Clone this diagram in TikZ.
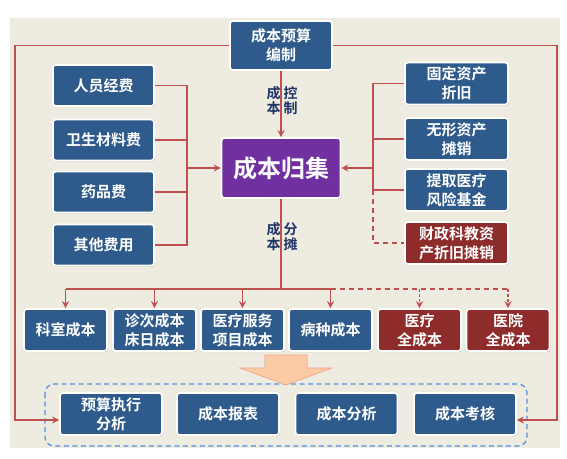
\documentclass[tikz,border=0pt]{standalone}
\usepackage{fontspec}
\setmainfont{Noto Sans CJK SC Bold}
\usetikzlibrary{arrows.meta,shadows}

\definecolor{boxblue}{HTML}{2F5B8C}
\definecolor{boxred}{HTML}{8E2B2B}
\definecolor{collectpurple}{HTML}{7030A0}
\definecolor{linered}{HTML}{C0504D}
\definecolor{panelbg}{HTML}{EEEBE1}
\definecolor{labelnavy}{HTML}{1F3566}
\definecolor{groupblue}{HTML}{4F90E0}
\definecolor{bigarrow}{HTML}{FCCBA6}
\definecolor{bigarrowline}{HTML}{EFA184}

\tikzset{
  costbox/.style={draw=white, line width=1.6pt, rounded corners=3pt, fill=boxblue,
    text=white, align=center, inner sep=1pt,
    font=\fontsize{15}{19}\selectfont,
    drop shadow={opacity=0.35, shadow xshift=0.8pt, shadow yshift=-1.2pt}},
  redbox/.style={costbox, fill=boxred},
  flow/.style={linered, line width=1.6pt},
  tip/.style={-{Stealth[length=7pt,width=7pt]}},
  flowlabel/.style={text=labelnavy, align=center, inner sep=0pt,
    font=\fontsize{14}{15}\selectfont}
}

\begin{document}
\begin{tikzpicture}[x=1pt, y=-1pt]
    \useasboundingbox (0,0) rectangle (567,458);

    % Background panel
    \fill[panelbg] (10,18) rectangle (560,448);

    % Output group
    \draw[groupblue, line width=1.2pt, dash pattern=on 5pt off 3.5pt, rounded corners=9pt]
        (45,384) rectangle (527,446);

    % Budget and collection
    \node[costbox, minimum width=102pt, minimum height=49pt] (budget) at (281,45.5) {成本预算\\编制};
    \node[costbox, fill=collectpurple, minimum width=119pt, minimum height=60pt,
          font=\fontsize{24}{28}\selectfont] (collect) at (281,168) {成本归集};

    % Direct costs
    \node[costbox, minimum width=101pt, minimum height=41pt] (staff) at (103.5,85.5) {人员经费};
    \node[costbox, minimum width=101pt, minimum height=41pt] (material) at (103.5,140) {卫生材料费};
    \node[costbox, minimum width=101pt, minimum height=41pt] (drug) at (103.5,192) {药品费};
    \node[costbox, minimum width=101pt, minimum height=41pt] (other) at (103.5,245) {其他费用};

    % Indirect costs
    \node[costbox, minimum width=103pt, minimum height=42pt] (fixed) at (456.5,83.5) {固定资产\\折旧};
    \node[costbox, minimum width=103pt, minimum height=42pt] (intang) at (456.5,139) {无形资产\\摊销};
    \node[costbox, minimum width=103pt, minimum height=42pt] (risk) at (456.5,190) {提取医疗\\风险基金};
    \node[redbox, minimum width=103pt, minimum height=42pt] (fund) at (456.5,243) {财政科教资\\产折旧摊销};

    % Cost objects
    \node[costbox, minimum width=83pt, minimum height=42pt] (dept) at (65.5,330) {科室成本};
    \node[costbox, minimum width=83pt, minimum height=42pt] (visit) at (154.5,330) {诊次成本\\床日成本};
    \node[costbox, minimum width=83pt, minimum height=42pt] (item) at (242.5,330) {医疗服务\\项目成本};
    \node[costbox, minimum width=83pt, minimum height=42pt] (disease) at (330.5,330) {病种成本};
    \node[redbox, minimum width=83pt, minimum height=42pt] (medfull) at (419.5,330) {医疗\\全成本};
    \node[redbox, minimum width=83pt, minimum height=42pt] (hospfull) at (508,330) {医院\\全成本};

    % Outputs
    \node[costbox, minimum width=102pt, minimum height=42pt] (exec) at (111,414) {预算执行\\分析};
    \node[costbox, minimum width=102pt, minimum height=42pt] (report) at (228,414) {成本报表};
    \node[costbox, minimum width=102pt, minimum height=42pt] (analysis) at (346.5,414) {成本分析};
    \node[costbox, minimum width=102pt, minimum height=42pt] (assess) at (465,414) {成本考核};

    % Bus positions
    \coordinate (outerl) at (15,0);
    \coordinate (outerr) at (557,0);
    \coordinate (lbus) at (187,0);
    \coordinate (rbus) at (373,0);
    \coordinate (hbus) at (0,289);

    % Budget loop to outputs
    \draw[flow, tip] (budget.west) -- (budget.west -| outerl) -- ([yshift=-6pt]outerl |- exec.west) -- ([yshift=-6pt]exec.west);
    \draw[flow, tip] (budget.east) -- (budget.east -| outerr) -- ([yshift=-6pt]outerr |- assess.east) -- ([yshift=-6pt]assess.east);
    \draw[flow, tip] (budget.south) -- (collect.north);

    % Left bus
    \draw[flow] (staff.east) -- (staff.east -| lbus) -- (other.east -| lbus) -- (other.east);
    \draw[flow] (material.east) -- (material.east -| lbus);
    \draw[flow] (drug.east) -- (drug.east -| lbus);
    \draw[flow, tip] (lbus |- collect.west) -- (collect.west);

    % Right bus
    \draw[flow] (fixed.west) -- (fixed.west -| rbus) -- (risk.west -| rbus) -- (risk.west);
    \draw[flow] (intang.west) -- (intang.west -| rbus);
    \draw[flow, dashed, dash pattern=on 5pt off 4pt] (risk.west -| rbus) -- (fund.west -| rbus) -- (fund.west);
    \draw[flow, tip] (rbus |- collect.east) -- (collect.east);

    % Allocation
    \draw[flow] (collect.south) -- (collect.south |- hbus);
    \draw[flow] (dept.north |- hbus) -- (disease.north |- hbus);
    \draw[flow, dashed, dash pattern=on 5pt off 4pt] (disease.north |- hbus) -- (hospfull.north |- hbus);
    \foreach \obj in {dept, visit, item, disease}
        \draw[flow, tip] (\obj.north |- hbus) -- (\obj.north);
    \foreach \obj in {medfull, hospfull}
        \draw[flow, tip, dashed, dash pattern=on 3pt off 2pt] (\obj.north |- hbus) -- (\obj.north);

    % Line labels
    \node[flowlabel] (ctrl) at (282,101) {成\hspace{3pt}控\\本\hspace{3pt}制};
    \node[flowlabel] (alloc) at (282,237) {成\hspace{3pt}分\\本\hspace{3pt}摊};

    % Big arrow to outputs
    \filldraw[fill=bigarrow, draw=bigarrowline, line width=0.6pt]
        (265,355) -- (307,355) -- (307,368) -- (332,368) -- (286,385) -- (240,368) -- (265,368) -- cycle;
\end{tikzpicture}
\end{document}
